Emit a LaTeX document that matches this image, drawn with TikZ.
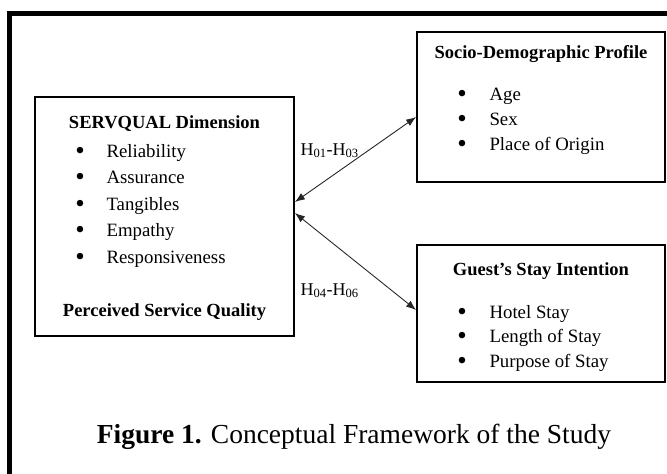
\documentclass[tikz,border=0pt]{standalone}
\usepackage{fontspec}
\setmainfont{Liberation Serif}
\usepackage{tikz}
\usetikzlibrary{arrows.meta, positioning, calc}

\begin{document}
\begin{tikzpicture}[x=1pt, y=-1pt,
    box/.style={draw, line width=1.8pt, inner sep=0pt},
    head/.style={anchor=base, font=\fontsize{18.5}{22}\selectfont\bfseries},
    item/.style={anchor=base west, font=\fontsize{18.8}{22}\selectfont},
    bul/.style={anchor=base, font=\fontsize{27}{30}\selectfont},
    hyp/.style={anchor=base west, font=\fontsize{18}{22}\selectfont},
    link/.style={{Latex[length=10pt,width=7.5pt]}-{Latex[length=10pt,width=7.5pt]},
                 draw=black!85, line width=0.9pt}]
  \useasboundingbox (0,0) rectangle (667,474);

  % outer frame (only top and left edges show)
  \draw[line width=4.5pt] (9.5,476) -- (9.5,13.5) -- (669,13.5);

  % boxes
  \node[box, minimum width=259pt, minimum height=239pt] (servq) at (164.5,216.5) {};
  \node[box, minimum width=248pt, minimum height=150pt] (socio) at (541,107) {};
  \node[box, minimum width=248pt, minimum height=137pt] (guest) at (541,313.5) {};

  % left box
  \node[head] (servqtitle) at (164.5,128) {SERVQUAL Dimension};
  \foreach \txt [count=\i] in {Reliability, Assurance, Tangibles, Empathy, Responsiveness} {
    \node[bul] (sqb\i) at (80,159+26.5*\i-26.5) {\textbullet};
    \node[item] (sq\i) at (103,157+26.5*\i-26.5) {\txt};
  }
  \node[head] (psq) at (164.5,316) {Perceived Service Quality};

  % upper right box
  \node[head] (sociotitle) at (541,58) {Socio-Demographic Profile};
  \foreach \txt [count=\i] in {Age, Sex, Place of Origin} {
    \node[bul] (spb\i) at (462,102+25*\i-25) {\textbullet};
    \node[item] (sp\i) at (486,100+25*\i-25) {\txt};
  }

  % lower right box
  \node[head] (guesttitle) at (541,275) {Guest's Stay Intention};
  \foreach \txt [count=\i] in {Hotel Stay, Length of Stay, Purpose of Stay} {
    \node[bul] (gsb\i) at (462,320+24.5*\i-24.5) {\textbullet};
    \node[item] (gs\i) at (486,318+24.5*\i-24.5) {\txt};
  }

  % links
  \draw[link] ([yshift=14.5pt]servq.east) -- ([yshift=-10pt]socio.west);
  \draw[link] ([yshift=3.5pt]servq.east) -- ([yshift=3.5pt]guest.west);
  \node[hyp] (h1) at (297,155) {H\textsubscript{01}-H\textsubscript{03}};
  \node[hyp] (h2) at (297,295) {H\textsubscript{04}-H\textsubscript{06}};

  % caption
  \node[anchor=base, font=\fontsize{27.5}{32}\selectfont] (cap) at (354,443)
    {\textbf{Figure 1.} Conceptual Framework of the Study};
\end{tikzpicture}
\end{document}
